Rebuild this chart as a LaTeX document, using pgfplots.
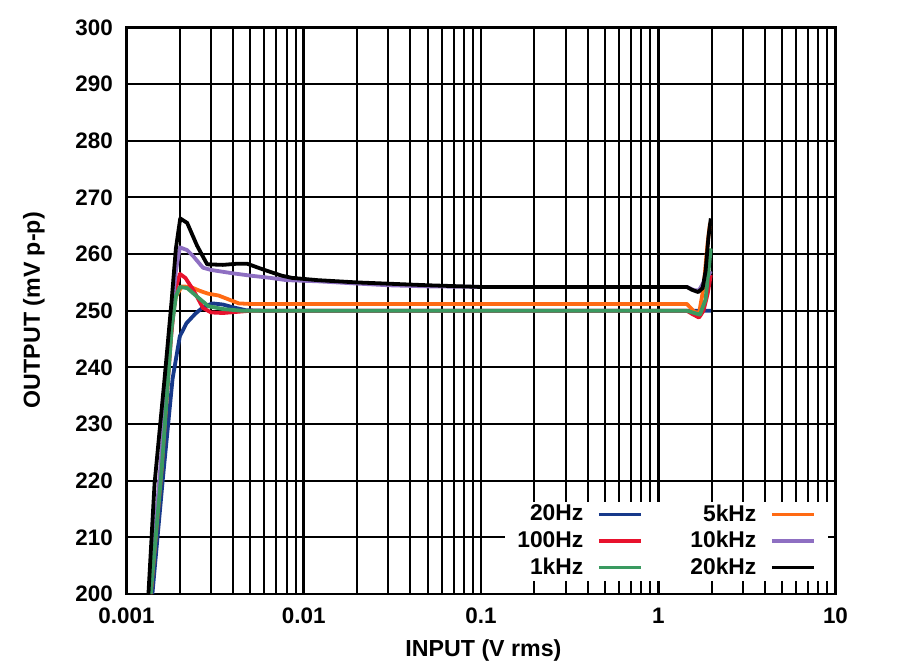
\documentclass[border=0pt]{standalone}
\usepackage{fontspec}
\setmainfont{Liberation Sans}
\usepackage{pgfplots}
\pgfplotsset{compat=1.18}
\definecolor{cblue}{HTML}{17398A}
\definecolor{cred}{HTML}{E8112D}
\definecolor{cgreen}{HTML}{3A9A60}
\definecolor{corange}{HTML}{FF6A13}
\definecolor{cpurple}{HTML}{8E6FC2}
\begin{document}
\begin{tikzpicture}
\begin{axis}[
  scale only axis, width=354.5pt, height=283.25pt,
  xmode=log, xmin=0.001, xmax=10, ymin=200, ymax=300,
  xtick={0.001,0.01,0.1,1,10}, xticklabels={0.001,0.01,0.1,1,10},
  minor xtick={0.002,0.003,0.004,0.005,0.006,0.007,0.008,0.009,
               0.02,0.03,0.04,0.05,0.06,0.07,0.08,0.09,
               0.2,0.3,0.4,0.5,0.6,0.7,0.8,0.9,
               2,3,4,5,6,7,8,9},
  ytick={200,210,...,300},
  yticklabels={200,210,220,230,240,250,260,270,280,290,300},
  grid=both,
  major x grid style={black, line width=1.4pt},
  minor x grid style={black, line width=1pt},
  major y grid style={black, line width=1pt},
  tick align=inside, major tick length=6pt, minor tick length=6pt,
  every tick/.style={black, line width=0.9pt},
  axis line style={black, line width=1.3pt},
  tick label style={font=\fontsize{11.2}{13}\selectfont\bfseries},
  yticklabel style={xshift=-3.3pt},
  xticklabel style={yshift=-3.3pt},
  xlabel={INPUT (V rms)}, ylabel={OUTPUT (mV p-p)},
  label style={font=\fontsize{11.6}{13}\selectfont\bfseries},
  xlabel style={at={(axis description cs:0.5035,-0.1006)}, anchor=center},
  ylabel style={at={(axis description cs:-0.1305,0.501)}, anchor=center},
  legend columns=2,
  legend plot pos=right,
  legend cell align=right,
  legend image code/.code={\draw[#1, line width=1.6pt] (0pt,0pt) -- (21pt,0pt);},
  legend style={at={(0.9894,0.023)}, anchor=south east, draw=none, fill=white,
    inner xsep=6pt, inner ysep=1.5pt, font=\fontsize{11.4}{13}\selectfont\bfseries,
    nodes={inner sep=0pt}, row sep=3.6pt,
    /tikz/every odd column/.append style={column sep=7pt},
    /tikz/every even column/.append style={column sep=24pt}},
]
\coordinate (sw) at (rel axis cs:0,0);
% 20Hz
\addplot[cblue, line width=1.9pt, line join=round] coordinates {
(0.00140,200) (0.00160,220) (0.00182,238) (0.00200,245.5) (0.00218,247.8)
(0.00245,249.5) (0.00270,250.6) (0.00305,251.3) (0.0035,251.1) (0.0040,250.6)
(0.0047,250.1) (0.006,250) (0.01,250) (0.1,250) (1,250) (1.5,250) (1.98,250)};
\addlegendentry{20Hz}
% 5kHz
\addplot[corange, line width=1.9pt, line join=round] coordinates {
(0.00137,200) (0.00158,223) (0.0018,248) (0.0019,252.5) (0.00205,254.3)
(0.0023,254.2) (0.0026,253.5) (0.0029,253) (0.0033,252.7) (0.0037,252.1)
(0.0043,251.3) (0.005,251.2) (0.01,251.2) (0.1,251.2) (1,251.2) (1.45,251.2)
(1.6,249.8) (1.7,249.6) (1.8,254) (1.9,262) (1.96,265.5)};
\addlegendentry{5kHz}
% 100Hz
\addplot[cred, line width=1.9pt, line join=round] coordinates {
(0.00137,200) (0.00158,222) (0.00178,245) (0.0019,254) (0.0020,256.5)
(0.00215,255.8) (0.0024,253.5) (0.0027,250.5) (0.0030,249.7) (0.0035,249.6)
(0.0042,249.8) (0.005,250) (0.01,250) (0.1,250) (1,250) (1.45,250)
(1.58,249.3) (1.7,248.8) (1.8,250) (1.9,253) (1.98,256.3)};
\addlegendentry{100Hz}
% 10kHz
\addplot[cpurple, line width=1.9pt, line join=round] coordinates {
(0.00135,200) (0.00155,222) (0.0018,250) (0.0019,257) (0.0020,261.2)
(0.0022,260.7) (0.0024,259.5) (0.0027,257.6) (0.003,257.2) (0.004,256.6)
(0.005,256.2) (0.0065,255.8) (0.008,255.4) (0.012,255.2) (0.02,254.8)
(0.03,254.5) (0.05,254.3) (0.1,254.2) (1,254.2) (1.45,254.2) (1.6,253.6)
(1.7,253.6) (1.8,255) (1.9,256) (1.98,257)};
\addlegendentry{10kHz}
% 1kHz
\addplot[cgreen, line width=1.9pt, line join=round] coordinates {
(0.00137,200) (0.00158,222) (0.0018,247) (0.0019,252.5) (0.0020,254.2)
(0.0022,254) (0.0025,252.5) (0.0029,250.8) (0.0035,250.3) (0.0045,250)
(0.01,250) (0.1,250) (1,250) (1.45,250) (1.6,249.6) (1.72,249.3)
(1.85,252) (1.98,261)};
\addlegendentry{1kHz}
% 20kHz
\addplot[black, line width=1.9pt, line join=round] coordinates {
(0.00133,200) (0.00144,219.5) (0.00164,238) (0.0018,252) (0.0019,261)
(0.00201,266.3) (0.0022,265.5) (0.0025,261.5) (0.00285,258.2) (0.0035,258.1)
(0.0042,258.3) (0.0048,258.3) (0.006,257.2) (0.0075,256.2) (0.0086,255.8)
(0.012,255.4) (0.02,255) (0.05,254.5) (0.1,254.2) (1,254.2) (1.45,254.2)
(1.55,253.7) (1.68,253.3) (1.78,254) (1.85,257) (1.92,263) (1.98,266.3)};
\addlegendentry{20kHz}
\node[rotate=90, font=\fontsize{7.8}{9}\selectfont] at (axis description cs:1.026,0.068) {06975-006};
\end{axis}
\pgfresetboundingbox
\path[use as bounding box] (sw) ++(-63.25pt,-38.5pt) rectangle ++(450pt,335.5pt);
\end{tikzpicture}
\end{document}
